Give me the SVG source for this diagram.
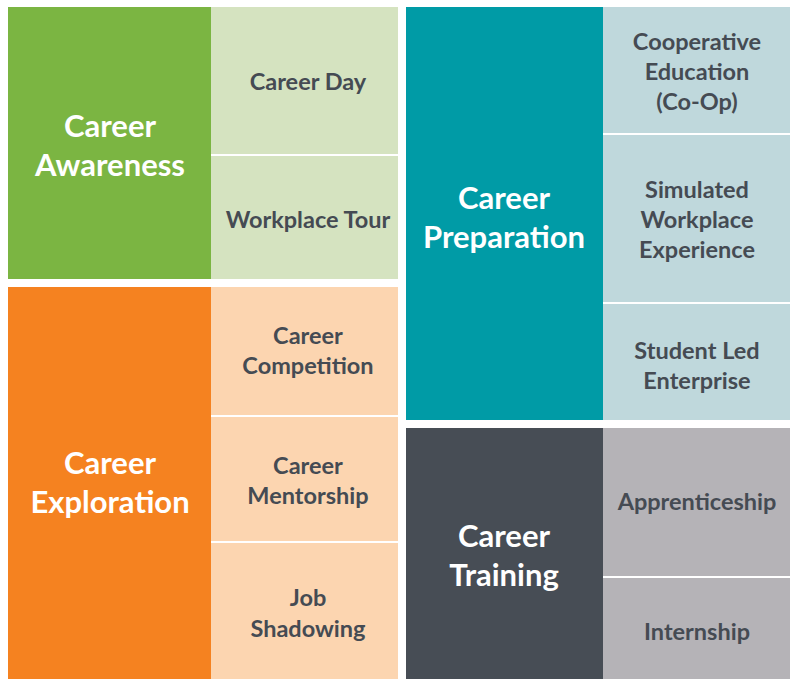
<svg xmlns="http://www.w3.org/2000/svg" width="800" height="687" viewBox="0 0 800 687">
<style>
.main{font-family:Lato,"Open Sans","DejaVu Sans",sans-serif;font-weight:bold;font-size:31px;fill:#ffffff;text-anchor:middle}
.sub{font-family:Lato,"Open Sans","DejaVu Sans",sans-serif;font-weight:bold;font-size:23.5px;fill:#454b53;text-anchor:middle}
</style>
<rect x="0" y="0" width="800" height="687" fill="#ffffff"/>
<g id="career-awareness">
<rect x="8" y="7" width="203" height="272" fill="#7bb542"/>
<text class="main" x="110" y="137">Career</text>
<text class="main" x="110" y="176">Awareness</text>
</g>
<g id="career-day">
<rect x="211" y="7" width="187" height="147" fill="#d5e3c0"/>
<text class="sub" x="308" y="90">Career Day</text>
</g>
<g id="workplace-tour">
<rect x="211" y="156" width="187" height="123" fill="#d5e3c0"/>
<text class="sub" x="308" y="228">Workplace Tour</text>
</g>
<g id="career-exploration">
<rect x="8" y="287" width="203" height="392" fill="#f58220"/>
<text class="main" x="110" y="474">Career</text>
<text class="main" x="110" y="513">Exploration</text>
</g>
<g id="career-competition">
<rect x="211" y="287" width="187" height="128" fill="#fcd5b0"/>
<text class="sub" x="308" y="344">Career</text>
<text class="sub" x="308" y="374">Competition</text>
</g>
<g id="career-mentorship">
<rect x="211" y="417" width="187" height="124" fill="#fcd5b0"/>
<text class="sub" x="308" y="474">Career</text>
<text class="sub" x="308" y="504">Mentorship</text>
</g>
<g id="job-shadowing">
<rect x="211" y="543" width="187" height="136" fill="#fcd5b0"/>
<text class="sub" x="308" y="606">Job</text>
<text class="sub" x="308" y="637">Shadowing</text>
</g>
<g id="career-preparation">
<rect x="406" y="7" width="197" height="413" fill="#009ba6"/>
<text class="main" x="504" y="209">Career</text>
<text class="main" x="504" y="248">Preparation</text>
</g>
<g id="cooperative-education">
<rect x="603" y="7" width="187" height="126" fill="#bfd8dc"/>
<text class="sub" x="697" y="50">Cooperative</text>
<text class="sub" x="697" y="80">Education</text>
<text class="sub" x="697" y="110">(Co-Op)</text>
</g>
<g id="simulated-workplace">
<rect x="603" y="135" width="187" height="167" fill="#bfd8dc"/>
<text class="sub" x="697" y="198">Simulated</text>
<text class="sub" x="697" y="228">Workplace</text>
<text class="sub" x="697" y="258">Experience</text>
</g>
<g id="student-led-enterprise">
<rect x="603" y="304" width="187" height="116" fill="#bfd8dc"/>
<text class="sub" x="697" y="359">Student Led</text>
<text class="sub" x="697" y="389">Enterprise</text>
</g>
<g id="career-training">
<rect x="406" y="428" width="197" height="251" fill="#474d55"/>
<text class="main" x="504" y="547">Career</text>
<text class="main" x="504" y="586">Training</text>
</g>
<g id="apprenticeship">
<rect x="603" y="428" width="187" height="148" fill="#b5b3b7"/>
<text class="sub" x="697" y="510">Apprenticeship</text>
</g>
<g id="internship">
<rect x="603" y="578" width="187" height="101" fill="#b5b3b7"/>
<text class="sub" x="697" y="640">Internship</text>
</g>
<g id="connectors"></g>
</svg>
